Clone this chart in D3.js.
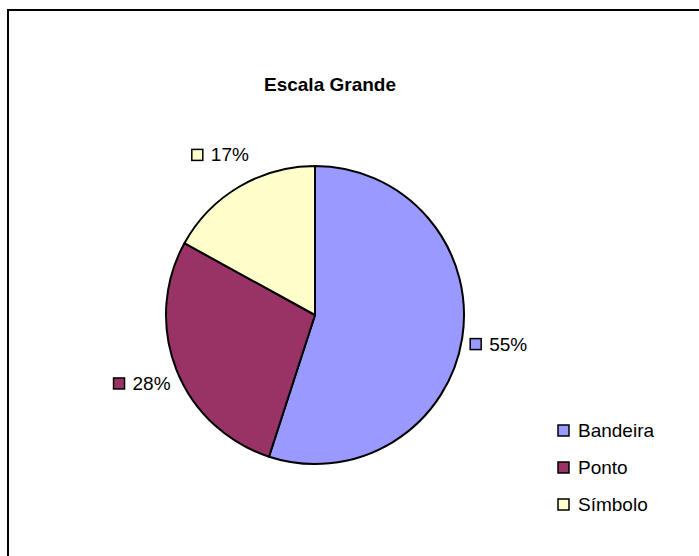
<!DOCTYPE html>
<html>
<head>
<meta charset="utf-8">
<script src="https://cdn.jsdelivr.net/npm/d3@7"></script>
<style>
  body { margin: 0; background: #fff; }
  text { font-family: "Liberation Sans", Arial, sans-serif; fill: #000; }
</style>
</head>
<body>
<script>
// Chart data
var categories = ["Bandeira", "Ponto", "Símbolo"];
var values = [55, 28, 17];
var labels = ["55%", "28%", "17%"];
var colors = ["#9999FF", "#993366", "#FFFFCC"];
var title = "Escala Grande";

// SVG area
var svgWidth = 699;
var svgHeight = 556;

var svg = d3.select("body")
  .append("svg")
  .attr("width", svgWidth)
  .attr("height", svgHeight);

// Chart border (right and bottom edges fall outside the picture)
svg.append("rect")
  .attr("x", 8)
  .attr("y", 10)
  .attr("width", 720)
  .attr("height", 580)
  .attr("fill", "#fff")
  .attr("stroke", "#000")
  .attr("stroke-width", 2);

// Title
svg.append("text")
  .attr("x", 330)
  .attr("y", 91)
  .attr("text-anchor", "middle")
  .style("font-size", "19px")
  .style("font-weight", "bold")
  .text(title);

// Pie
var cx = 315, cy = 315, radius = 149;
var pieGroup = svg.append("g")
  .attr("transform", `translate(${cx}, ${cy})`);

var pie = d3.pie().sort(null).value(d => d.value);
var data = categories.map((c, i) => ({ name: c, value: values[i], label: labels[i], color: colors[i] }));
var arcs = pie(data);

var drawArc = d3.arc().innerRadius(0).outerRadius(radius);

pieGroup.selectAll("path.slice")
  .data(arcs)
  .enter()
  .append("path")
  .attr("class", "slice")
  .attr("d", drawArc)
  .attr("fill", d => d.data.color)
  .attr("stroke", "#000")
  .attr("stroke-width", 2)
  .attr("stroke-linejoin", "round");

// Data labels: key box + percentage, centred on a ring outside the pie
var labelArc = d3.arc().innerRadius(186).outerRadius(186);
var boxSize = 11, gap = 8, fontSize = 19;

var labelGroups = pieGroup.selectAll("g.dlabel")
  .data(arcs)
  .enter()
  .append("g")
  .attr("class", "dlabel");

labelGroups.each(function(d) {
  var g = d3.select(this);
  var c = labelArc.centroid(d);
  var txt = g.append("text")
    .style("font-size", fontSize + "px")
    .text(d.data.label);
  var tw = txt.node().getComputedTextLength();
  var total = boxSize + gap + tw;
  var left = c[0] - total / 2;
  g.append("rect")
    .attr("x", left)
    .attr("y", c[1] - boxSize / 2)
    .attr("width", boxSize)
    .attr("height", boxSize)
    .attr("fill", d.data.color)
    .attr("stroke", "#000")
    .attr("stroke-width", 1.5);
  txt.attr("x", left + boxSize + gap)
    .attr("y", c[1] + 6.5);
});

// Legend
var legend = svg.append("g")
  .attr("transform", "translate(558, 425)");

var legendY = d3.scalePoint()
  .domain(categories)
  .range([0, 74]);

var items = legend.selectAll("g.item")
  .data(data)
  .enter()
  .append("g")
  .attr("class", "item")
  .attr("transform", d => `translate(0, ${legendY(d.name)})`);

items.append("rect")
  .attr("width", boxSize)
  .attr("height", boxSize)
  .attr("fill", d => d.color)
  .attr("stroke", "#000")
  .attr("stroke-width", 1.5);

items.append("text")
  .attr("x", 20)
  .attr("y", 12)
  .style("font-size", fontSize + "px")
  .text(d => d.name);
</script>
</body>
</html>
